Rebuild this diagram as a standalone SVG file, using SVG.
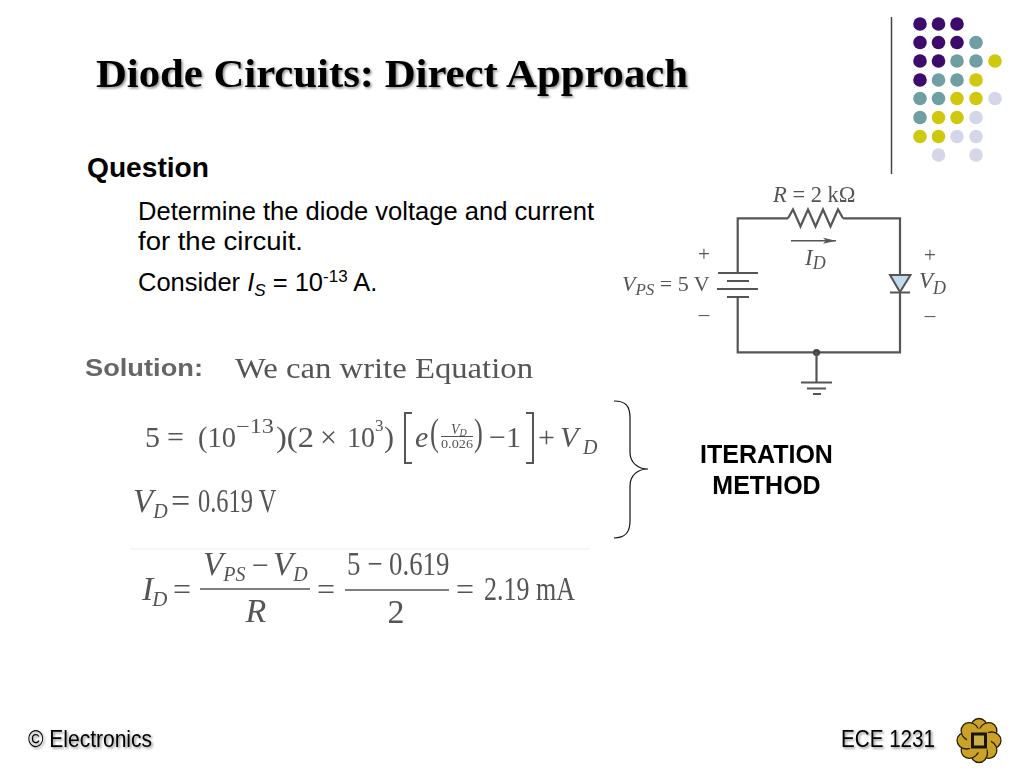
<svg xmlns="http://www.w3.org/2000/svg" width="1024" height="768" viewBox="0 0 1024 768">
<defs>
<filter id="soft" x="-5%" y="-5%" width="110%" height="110%"><feGaussianBlur stdDeviation="0.35"/></filter>
<filter id="soft2" x="-5%" y="-20%" width="110%" height="140%"><feGaussianBlur stdDeviation="0.7"/></filter>
<filter id="shadow" x="-5%" y="-20%" width="110%" height="140%"><feDropShadow dx="1.5" dy="1.5" stdDeviation="0.8" flood-color="#000" flood-opacity="0.45"/></filter>
<marker id="arrow" markerUnits="userSpaceOnUse" markerWidth="14" markerHeight="8" refX="13" refY="4" orient="auto"><path d="M0 1 L13 4 L0 7 L3 4 Z" fill="#555"/></marker>
</defs>
<style>
.sans{font-family:"Liberation Sans",Arial,sans-serif;fill:#000}
.body{font-size:25.5px}
.ser{font-family:"Liberation Serif","Times New Roman",serif;fill:#555}
.i{font-style:italic}
.w{fill:none;stroke:#555;stroke-width:2.2}
.b{fill:none;stroke:#555;stroke-width:2}
.p{fill:#3d0b6b}.t{fill:#6f9ea3}.y{fill:#cfc80f}.l{fill:#d5d6e8}
.foot{font-size:24px}
</style>
<rect width="1024" height="768" fill="#fff"/>

<g id="decor">
<line x1="891.5" y1="17" x2="891.5" y2="174" stroke="#444" stroke-width="1.5"/>
<circle class="p" cx="920" cy="24" r="6.8"/><circle class="p" cx="938.5" cy="24" r="6.8"/><circle class="p" cx="957" cy="24" r="6.8"/>
<circle class="p" cx="920" cy="42.5" r="6.8"/><circle class="p" cx="938.5" cy="42.5" r="6.8"/><circle class="p" cx="957" cy="42.5" r="6.8"/><circle class="t" cx="976" cy="42.5" r="6.8"/>
<circle class="p" cx="920" cy="61" r="6.8"/><circle class="p" cx="938.5" cy="61" r="6.8"/><circle class="t" cx="957" cy="61" r="6.8"/><circle class="t" cx="976" cy="61" r="6.8"/><circle class="y" cx="995" cy="61" r="6.8"/>
<circle class="p" cx="920" cy="80" r="6.8"/><circle class="t" cx="938.5" cy="80" r="6.8"/><circle class="t" cx="957" cy="80" r="6.8"/><circle class="y" cx="976" cy="80" r="6.8"/>
<circle class="t" cx="920" cy="98.5" r="6.8"/><circle class="t" cx="938.5" cy="98.5" r="6.8"/><circle class="y" cx="957" cy="98.5" r="6.8"/><circle class="y" cx="976" cy="98.5" r="6.8"/><circle class="l" cx="995" cy="98.5" r="6.8"/>
<circle class="t" cx="920" cy="117.5" r="6.8"/><circle class="y" cx="938.5" cy="117.5" r="6.8"/><circle class="y" cx="957" cy="117.5" r="6.8"/><circle class="l" cx="976" cy="117.5" r="6.8"/>
<circle class="y" cx="920" cy="136.5" r="6.8"/><circle class="y" cx="938.5" cy="136.5" r="6.8"/><circle class="l" cx="957" cy="136.5" r="6.8"/><circle class="l" cx="976" cy="136.5" r="6.8"/>
<circle class="l" cx="938.5" cy="155" r="6.8"/><circle class="l" cx="976" cy="155" r="6.8"/>
</g>

<g id="title">
<text x="96" y="87" font-family="'Liberation Serif','Times New Roman',serif" font-weight="bold" font-size="41" fill="#000" filter="url(#shadow)" textLength="592" lengthAdjust="spacingAndGlyphs">Diode Circuits: Direct Approach</text>
</g>

<g id="question">
<text class="sans" x="87" y="177" font-weight="bold" font-size="27" textLength="122" lengthAdjust="spacingAndGlyphs">Question</text>
<text class="sans body" x="138" y="220" textLength="456" lengthAdjust="spacingAndGlyphs">Determine the diode voltage and current</text>
<text class="sans body" x="138" y="250" textLength="165" lengthAdjust="spacingAndGlyphs">for the circuit.</text>
<text class="sans body" x="138" y="291">Consider <tspan font-style="italic">I</tspan><tspan font-style="italic" font-size="17" dy="5">S</tspan><tspan dy="-5"> = 10</tspan><tspan font-size="17" dy="-9">-13</tspan><tspan dy="9"> A.</tspan></text>
</g>

<g id="circuit" filter="url(#soft)">
<path class="w" d="M737.7 273V218.3H788M843 218.3H900V275M900 292V352.3H737.7V297"/>
<path class="w" d="M788 218.3L793 209.500L800.500 226.500L808 209.500L815.500 226.500L823 209.500L830.500 226.500L838 209.500L843 218.300"/>
<path class="b" d="M718 273H758M727 281H749M717 289H758M727 297H749"/>
<path d="M890 275H910.500L900 292Z" fill="#c5d9ec" stroke="#555" stroke-width="2"/>
<path class="b" d="M890 292.500H910"/>
<circle cx="816.500" cy="352.500" r="3.600" fill="#444"/>
<path class="w" d="M816.500 352V382"/>
<path class="b" d="M801 382.500H832M807 388.500H826M813 394H821"/>
<line x1="791" y1="240.700" x2="836" y2="240.700" stroke="#555" stroke-width="1.500" marker-end="url(#arrow)"/>
<text class="ser" x="773" y="202" font-size="22.500"><tspan class="i">R</tspan> = 2 kΩ</text>
<text class="ser i" x="805" y="265" font-size="23">I<tspan font-size="18" dy="4">D</tspan></text>
<text class="ser" x="704" y="261" font-size="21" text-anchor="middle">+</text>
<text class="ser" x="704" y="321" font-size="21" text-anchor="middle">–</text>
<text class="ser" x="930" y="262" font-size="21" text-anchor="middle">+</text>
<text class="ser" x="930" y="322" font-size="21" text-anchor="middle">–</text>
<text class="ser" x="622" y="291" font-size="22"><tspan class="i">V</tspan><tspan class="i" font-size="17" dy="4">PS</tspan><tspan dy="-4"> = 5 V</tspan></text>
<text class="ser i" x="919" y="288" font-size="23">V<tspan font-size="18" dy="6">D</tspan></text>
</g>

<g id="solution" filter="url(#soft)">
<path d="M130 549H590" stroke="#f2f2f2" stroke-width="1.500" fill="none"/>
<text x="85" y="376" font-family="'Liberation Sans',Arial,sans-serif" font-weight="bold" font-size="24" fill="#666" filter="url(#soft2)" textLength="118" lengthAdjust="spacingAndGlyphs">Solution:</text>
<text class="ser" x="235" y="378" font-size="30" textLength="298" lengthAdjust="spacingAndGlyphs">We can write Equation</text>

<text class="ser" x="145" y="447" font-size="30">5</text>
<text class="ser" x="167" y="447" font-size="30">=</text>
<text class="ser" x="198" y="447" font-size="30" textLength="38" lengthAdjust="spacingAndGlyphs">(10</text>
<text class="ser" x="236" y="433" font-size="20" textLength="38" lengthAdjust="spacingAndGlyphs">−13</text>
<text class="ser" x="276" y="447" font-size="30" textLength="38" lengthAdjust="spacingAndGlyphs">)(2</text>
<text class="ser" x="320" y="447" font-size="30">×</text>
<text class="ser" x="347" y="447" font-size="30" textLength="28" lengthAdjust="spacingAndGlyphs">10</text>
<text class="ser" x="375" y="431" font-size="17">3</text>
<text class="ser" x="384" y="447" font-size="30">)</text>
<path class="b" d="M412 413H405V463H412M526 413H533V463H526" stroke-width="1.800"/>
<text class="ser i" x="415" y="447" font-size="30">e</text>
<text class="ser" x="430" y="445" font-size="38" transform="translate(430 0) scale(.7 1) translate(-430 0)">(</text>
<text class="ser i" x="451" y="434" font-size="14">V<tspan font-size="10" dy="2">D</tspan></text>
<line x1="441" y1="436.500" x2="473" y2="436.500" stroke="#555" stroke-width="1"/>
<text class="ser" x="441" y="448" font-size="13" textLength="32" lengthAdjust="spacingAndGlyphs">0.026</text>
<text class="ser" x="474" y="445" font-size="38" transform="translate(474 0) scale(.7 1) translate(-474 0)">)</text>
<text class="ser" x="489" y="447" font-size="30" textLength="32" lengthAdjust="spacingAndGlyphs">−1</text>
<text class="ser" x="538" y="447" font-size="30">+</text>
<text class="ser i" x="560" y="447" font-size="30">V</text>
<text class="ser i" x="583" y="454" font-size="20">D</text>

<text class="ser i" x="133" y="512" font-size="33">V<tspan font-size="20" dy="6">D</tspan></text>
<text class="ser" x="171" y="512" font-size="34">=</text>
<text class="ser" transform="translate(198 512) scale(.72 1)" font-size="34">0.619 V</text>

<text class="ser i" x="142" y="600" font-size="34">I<tspan font-size="21" dy="6" dx="-1">D</tspan></text>
<text class="ser" x="173" y="600" font-size="32">=</text>
<text class="ser i" x="203" y="575" font-size="33">V<tspan font-size="20" dy="6">PS</tspan></text>
<text class="ser" x="252" y="575" font-size="30">−</text>
<text class="ser i" x="273" y="575" font-size="33">V<tspan font-size="20" dy="6">D</tspan></text>
<line x1="200" y1="589" x2="310" y2="589" stroke="#555" stroke-width="1.500"/>
<text class="ser i" x="256" y="622" font-size="34" text-anchor="middle">R</text>
<text class="ser" x="317" y="600" font-size="32">=</text>
<text class="ser" transform="translate(347 575) scale(.79 1)" font-size="34">5 − 0.619</text>
<line x1="345" y1="590" x2="449" y2="590" stroke="#555" stroke-width="1.500"/>
<text class="ser" x="396" y="623" font-size="34" text-anchor="middle">2</text>
<text class="ser" x="456" y="600" font-size="32">=</text>
<text class="ser" x="484" y="600" font-size="34" textLength="91" lengthAdjust="spacingAndGlyphs">2.19 mA</text>
</g>

<g id="brace">
<path d="M614 401C625 401 630 405 630 418V452C630 463 638 469 648 469C638 469 630 475 630 486V521C630 533 625 538 614 538" fill="none" stroke="#111" stroke-width="1.200"/>
</g>

<g id="method">
<text class="sans" x="766.500" y="463" font-weight="bold" font-size="25" text-anchor="middle">ITERATION</text>
<text class="sans" x="766.500" y="494" font-weight="bold" font-size="25" text-anchor="middle">METHOD</text>
</g>

<g id="footer-left">
<text class="sans foot" x="28" y="747" filter="url(#shadow)" textLength="124" lengthAdjust="spacingAndGlyphs">© Electronics</text>
</g>
<g id="footer-right">
<text class="sans foot" x="841" y="747" filter="url(#shadow)" textLength="94" lengthAdjust="spacingAndGlyphs">ECE 1231</text>
</g>

<g id="logo">
<g fill="#c9a227" stroke="#2a2000" stroke-width="1.300">
<ellipse cx="979" cy="728" rx="8.500" ry="9.500"/>
<ellipse cx="979" cy="728" rx="8.500" ry="9.500" transform="rotate(45 979 740.500)"/>
<ellipse cx="979" cy="728" rx="8.500" ry="9.500" transform="rotate(90 979 740.500)"/>
<ellipse cx="979" cy="728" rx="8.500" ry="9.500" transform="rotate(135 979 740.500)"/>
<ellipse cx="979" cy="728" rx="8.500" ry="9.500" transform="rotate(180 979 740.500)"/>
<ellipse cx="979" cy="728" rx="8.500" ry="9.500" transform="rotate(225 979 740.500)"/>
<ellipse cx="979" cy="728" rx="8.500" ry="9.500" transform="rotate(270 979 740.500)"/>
<ellipse cx="979" cy="728" rx="8.500" ry="9.500" transform="rotate(315 979 740.500)"/>
</g>
<circle cx="979" cy="740.500" r="12" fill="#c9a227"/>
<rect x="971" y="732.500" width="16" height="16" fill="#1a1400"/>
<rect x="974" y="735.500" width="10" height="10" fill="#c9b04a"/>
</g>
</svg>
